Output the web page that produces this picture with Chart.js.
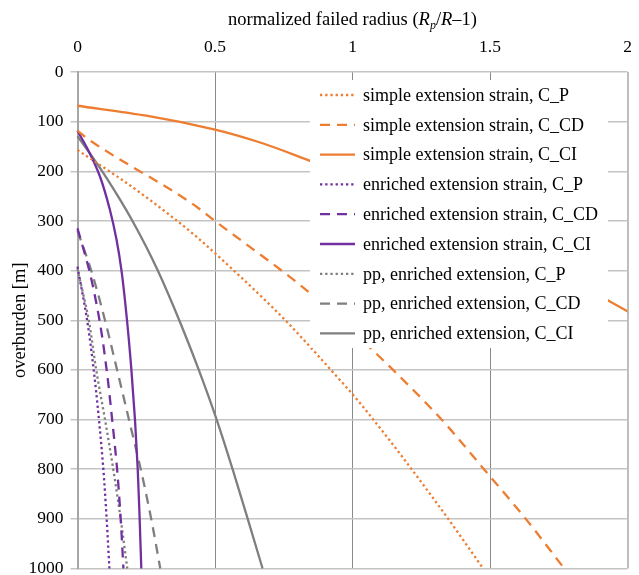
<!DOCTYPE html>
<html><head><meta charset="utf-8">
<script src="https://cdn.jsdelivr.net/npm/chart.js@4/dist/chart.umd.min.js"></script>
<style>
html,body{margin:0;padding:0;background:#fff;}
canvas{display:block;}
</style></head><body>
<canvas id="c" width="639" height="575"></canvas>
<script>
// ---- data ----
const xTicks = [0, 0.5, 1, 1.5, 2];
const yTicks = [0, 100, 200, 300, 400, 500, 600, 700, 800, 900, 1000];
const xTitle = ['normalized failed radius (', 'R', 'p', '/', 'R', '–1)'];
const yTitle = 'overburden [m]';
const seriesLabels = [
  'simple extension strain, C_P', 'simple extension strain, C_CD', 'simple extension strain, C_CI',
  'enriched extension strain, C_P', 'enriched extension strain, C_CD', 'enriched extension strain, C_CI',
  'pp, enriched extension, C_P', 'pp, enriched extension, C_CD', 'pp, enriched extension, C_CI'
];
// depth [m] and normalized failed radius for each series
const simpleP_depth  = [157, 232, 318, 365, 489, 553, 598, 647, 717, 800, 900, 1000];
const simpleP_x      = [0, 0.2, 0.403, 0.5, 0.736, 0.845, 0.918, 0.997, 1.1, 1.215, 1.348, 1.475];
const simpleCD_depth = [118, 135, 262, 300, 445, 565, 598, 700, 800, 900, 1000];
const simpleCD_x     = [0, 0.038, 0.409, 0.5, 0.845, 1.082, 1.144, 1.324, 1.478, 1.63, 1.77];
const simpleCI_depth = [68, 88, 116, 140, 175, 258, 362, 462, 482, 515];
const simpleCI_x     = [0, 0.25, 0.5, 0.653, 0.827, 1.2, 1.6, 1.936, 2.0, 2.1];
const enrP_depth     = [392, 500, 600, 700, 800, 900, 1000];
const enrP_x         = [0, 0.035, 0.059, 0.078, 0.094, 0.106, 0.116];
const enrCD_depth    = [315, 400, 500, 600, 700, 800, 900, 1000];
const enrCD_x        = [0, 0.043, 0.08, 0.106, 0.126, 0.144, 0.157, 0.167];
const enrCI_depth    = [118, 164, 211, 278, 338, 400, 500, 600, 700, 800, 900, 1000];
const enrCI_x        = [0, 0.045, 0.082, 0.118, 0.142, 0.16, 0.18, 0.196, 0.209, 0.219, 0.226, 0.232];
const ppP_depth      = [397, 500, 600, 700, 800, 900, 1000];
const ppP_x          = [0, 0.041, 0.068, 0.1, 0.13, 0.157, 0.181];
const ppCD_depth     = [320, 400, 500, 600, 700, 800, 900, 1000];
const ppCD_x         = [0, 0.05, 0.1, 0.144, 0.187, 0.23, 0.268, 0.301];
const ppCI_depth     = [129, 150, 200, 250, 300, 350, 400, 500, 600, 700, 800, 900, 1000];
const ppCI_x         = [0, 0.027, 0.09, 0.147, 0.2, 0.248, 0.292, 0.37, 0.441, 0.506, 0.564, 0.619, 0.673];

// ---- styling ----
const ORANGE = '#ED7D31', PURPLE = '#7030A0', GRAY = '#7F7F7F';
const DOT = [2.3, 2.9], DASH = [10, 7], SOLID = [];
const FONT = '"Liberation Serif", "Times New Roman", serif';

const pts = (xs, ds) => xs.map((v, i) => ({x: v, y: ds[i]}));
const series = [
  [simpleP_x, simpleP_depth, ORANGE, DOT],
  [simpleCD_x, simpleCD_depth, ORANGE, DASH],
  [simpleCI_x, simpleCI_depth, ORANGE, SOLID],
  [enrP_x, enrP_depth, PURPLE, DOT],
  [enrCD_x, enrCD_depth, PURPLE, DASH],
  [enrCI_x, enrCI_depth, PURPLE, SOLID],
  [ppP_x, ppP_depth, GRAY, DOT],
  [ppCD_x, ppCD_depth, GRAY, DASH],
  [ppCI_x, ppCI_depth, GRAY, SOLID]
];
const datasets = series.map((s, i) => ({
  label: seriesLabels[i],
  data: pts(s[0], s[1]),
  borderColor: s[2],
  backgroundColor: s[2],
  borderDash: s[3],
  borderWidth: 2.3,
  borderCapStyle: 'butt',
  fill: false,
  pointRadius: 0,
  cubicInterpolationMode: 'monotone',
  clip: {left: 3, top: 0, right: 0, bottom: 3}
}));

const legendPlugin = {
  id: 'insideLegend',
  afterDatasetsDraw(chart) {
    const ctx = chart.ctx;
    const a = chart.chartArea;
    const x0 = a.left + 232.5;
    const y0 = a.top + 8;
    ctx.save();
    ctx.fillStyle = '#fff';
    ctx.fillRect(x0, y0, 298, 268);
    chart.data.datasets.forEach((ds, i) => {
      const cy = y0 + 15 + i * 29.8;
      ctx.beginPath();
      ctx.strokeStyle = ds.borderColor;
      ctx.lineWidth = 2.3;
      ctx.setLineDash(ds.borderDash);
      ctx.moveTo(x0 + 10, cy);
      ctx.lineTo(x0 + 45, cy);
      ctx.stroke();
      ctx.setLineDash([]);
      ctx.fillStyle = '#000';
      ctx.font = '18px ' + FONT;
      ctx.textBaseline = 'middle';
      ctx.textAlign = 'left';
      ctx.fillText(ds.label, x0 + 53, cy + 1);
    });
    ctx.restore();
  }
};

const titlePlugin = {
  id: 'mixedTitle',
  afterDraw(chart) {
    const ctx = chart.ctx;
    const a = chart.chartArea;
    const parts = [
      [xTitle[0], '18.5px ' + FONT, 0],
      [xTitle[1], 'italic 18.5px ' + FONT, 0],
      [xTitle[2], 'italic 12px ' + FONT, 4],
      [xTitle[3], '18.5px ' + FONT, 0],
      [xTitle[4], 'italic 18.5px ' + FONT, 0],
      [xTitle[5], '18.5px ' + FONT, 0]
    ];
    ctx.save();
    let w = 0;
    parts.forEach(p => { ctx.font = p[1]; w += ctx.measureText(p[0]).width; });
    let x = (a.left + a.right) / 2 - w / 2;
    const base = 25;
    ctx.fillStyle = '#000';
    ctx.textBaseline = 'alphabetic';
    ctx.textAlign = 'left';
    parts.forEach(p => {
      ctx.font = p[1];
      ctx.fillText(p[0], x, base + p[2]);
      x += ctx.measureText(p[0]).width;
    });
    ctx.restore();
  }
};

new Chart(document.getElementById('c'), {
  type: 'line',
  data: {datasets},
  plugins: [legendPlugin, titlePlugin],
  options: {
    indexAxis: 'y',
    responsive: false,
    animation: false,
    devicePixelRatio: 1,
    layout: {padding: {left: 0, right: 11.5, top: 0, bottom: 6.5}},
    plugins: {legend: {display: false}, tooltip: {enabled: false}, title: {display: false}},
    scales: {
      x: {
        type: 'linear', position: 'top', min: 0, max: 2,
        afterBuildTicks: s => { s.ticks = xTicks.map(v => ({value: v})); },
        afterFit: s => { s.height = 72; s.paddingLeft = 0; s.paddingRight = 0; },
        ticks: {color: '#000', font: {family: FONT, size: 17.5}, padding: 14, maxRotation: 0,
                callback: v => String(v)},
        grid: {
          drawTicks: false,
          color: c => (c.tick && c.tick.value === 2) ? '#bdbdbd' : '#8a8a8a',
          lineWidth: c => (c.tick && c.tick.value === 2) ? 2 : 1
        },
        border: {display: false}
      },
      y: {
        type: 'linear', position: 'left', reverse: true, min: 0, max: 1000,
        afterBuildTicks: s => { s.ticks = yTicks.map(v => ({value: v})); },
        afterFit: s => { s.width = 77.5; s.paddingTop = 0; s.paddingBottom = 0; },
        ticks: {color: '#000', font: {family: FONT, size: 17.5}, padding: 7,
                callback: v => String(v)},
        grid: {color: '#c4c4c4', lineWidth: 1.5, tickLength: 7},
        border: {display: true, color: '#a6a6a6', width: 2},
        title: {display: true, text: yTitle, color: '#000', font: {family: FONT, size: 18.5},
                padding: {top: 9, bottom: 0}}
      }
    }
  }
});
</script>
</body></html>
